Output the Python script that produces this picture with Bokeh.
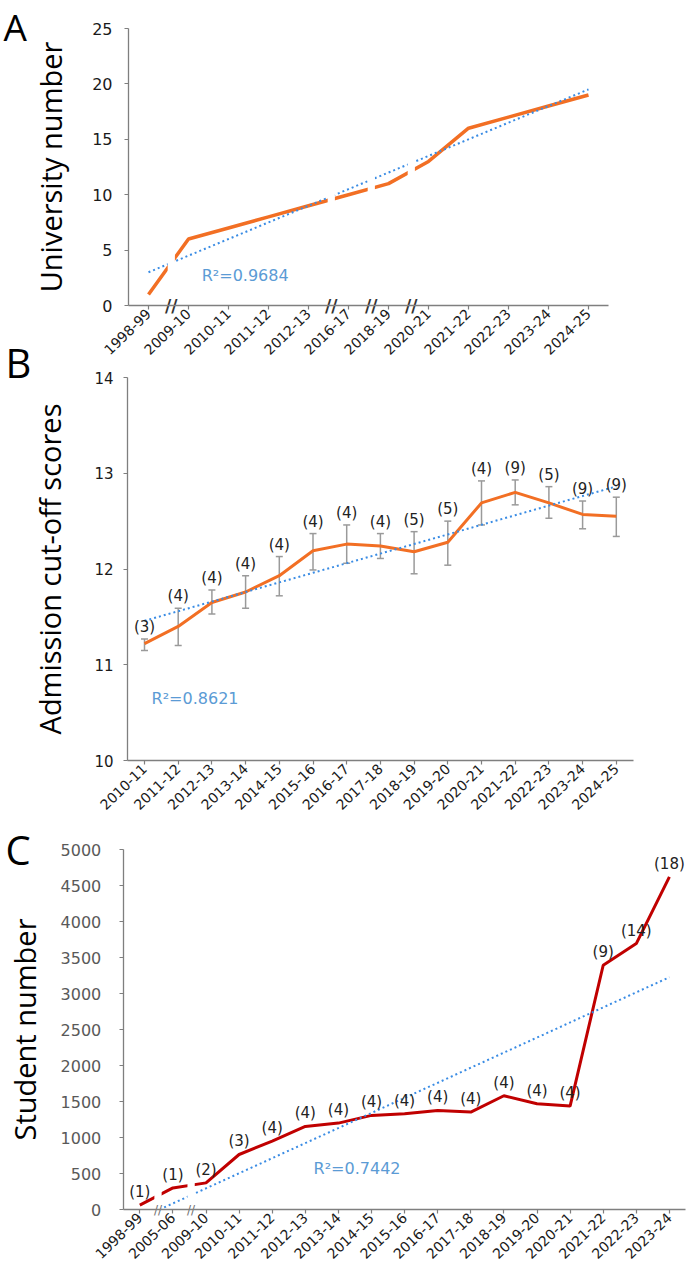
import numpy as np
from bokeh.plotting import figure
from bokeh.models import (Range1d, SingleIntervalTicker, FixedTicker, Label,
                          LinearAxis, CustomJSTickFormatter)
from bokeh.embed import file_html
from bokeh.resources import INLINE
from bokeh.core.properties import value

# ---------------- data ----------------
# Panel A
years_a = ["1998-99", "2009-10", "2010-11", "2011-12", "2012-13", "2016-17",
           "2018-19", "2020-21", "2021-22", "2022-23", "2023-24", "2024-25"]
univ_a = [1, 6, 7, 8, 9, 10, 11, 13, 16, 17, 18, 19]
breaks_a = ["1998-99", "2012-13", "2016-17", "2018-19"]
r2_a = "R\u00b2=0.9684"

# Panel B
years_b = ["2010-11", "2011-12", "2012-13", "2013-14", "2014-15", "2015-16",
           "2016-17", "2017-18", "2018-19", "2019-20", "2020-21", "2021-22",
           "2022-23", "2023-24", "2024-25"]
score_b = [11.22, 11.40, 11.65, 11.76, 11.93, 12.19, 12.26, 12.24, 12.18,
           12.28, 12.69, 12.80, 12.69, 12.57, 12.55]
upper_b = [11.27, 11.59, 11.78, 11.93, 12.13, 12.37, 12.46, 12.37, 12.39,
           12.50, 12.92, 12.93, 12.86, 12.71, 12.75]
lower_b = [11.15, 11.20, 11.53, 11.59, 11.72, 11.99, 12.06, 12.11, 11.95,
           12.04, 12.46, 12.67, 12.53, 12.42, 12.34]
n_b = [3, 4, 4, 4, 4, 4, 4, 4, 5, 5, 4, 9, 5, 9, 9]
r2_b = "R\u00b2=0.8621"

# Panel C
years_c = ["1998-99", "2005-06", "2009-10", "2010-11", "2011-12", "2012-13",
           "2013-14", "2014-15", "2015-16", "2016-17", "2017-18", "2018-19",
           "2019-20", "2020-21", "2021-22", "2022-23", "2023-24"]
students_c = [60, 300, 370, 764, 950, 1154, 1200, 1307, 1330, 1376, 1353,
              1580, 1469, 1437, 3392, 3693, 4620]
n_c = [1, 1, 2, 3, 4, 4, 4, 4, 4, 4, 4, 4, 4, 4, 9, 14, 18]
breaks_c = ["1998-99", "2005-06"]
r2_c = "R\u00b2=0.7442"

# ---------------- styles ----------------
W, H = 695, 1265
ORANGE = "#F26F24"
RED = "#C00000"
BLUE = "#3A8CE4"
R2_BLUE = "#5B9BD5"
ERR_GRAY = "#9A9A9A"
AXIS_GRAY = "#7F7F7F"

p = figure(width=W, height=H, x_range=Range1d(0, 1), y_range=Range1d(0, 1),
           x_axis_location=None, y_axis_location=None,
           output_backend="svg", toolbar_location=None, min_border=0)
p.grid.visible = False
p.outline_line_color = None


def panel_ranges(name, x_first_px, x_step_px, y_lo, y_lo_px, y_hi, y_hi_px):
    """Map category index i to x pixel x_first_px + i*x_step_px and values to canvas rows."""
    xs = (0 - x_first_px) / x_step_px
    xe = (W - x_first_px) / x_step_px
    k = (y_hi - y_lo) / (y_lo_px - y_hi_px)          # value per pixel (upwards)
    ys = y_lo - (H - y_lo_px) * k
    ye = y_lo + y_lo_px * k
    p.extra_x_ranges["x" + name] = Range1d(xs, xe)
    p.extra_y_ranges["y" + name] = Range1d(ys, ye)
    return "x" + name, "y" + name


def add_axes(xr, yr, cats, y0, y1, interval, ylabel, ytick_color, ytick_size,
             ystand, ylab_stand):
    n = len(cats)
    yax = LinearAxis(x_range_name=xr, y_range_name=yr, fixed_location=-0.5,
                     bounds=(y0, y1), ticker=SingleIntervalTicker(interval=interval))
    xax = LinearAxis(x_range_name=xr, y_range_name=yr, fixed_location=y0,
                     bounds=(-0.5, n - 0.5),
                     ticker=FixedTicker(ticks=list(range(n))),
                     formatter=CustomJSTickFormatter(
                         args=dict(labels=cats),
                         code="const i = Math.round(tick); return (i >= 0 && i < labels.length) ? labels[i] : '';"))
    for ax in (xax, yax):
        ax.major_tick_in = 0
        ax.major_tick_out = 4
        ax.minor_tick_line_color = None
        ax.axis_line_color = AXIS_GRAY
        ax.major_tick_line_color = AXIS_GRAY
        ax.axis_line_width = 1.3
        ax.major_tick_line_width = 1.2
    xax.major_label_orientation = 0.77
    xax.major_label_text_font = "DejaVu Sans"
    xax.major_label_text_font_size = "14px"
    xax.major_label_text_color = "#1a1a1a"
    xax.major_label_standoff = 2
    yax.major_label_text_font = "DejaVu Sans"
    yax.major_label_text_font_size = ytick_size
    yax.major_label_text_color = ytick_color
    yax.major_label_standoff = ystand
    yax.axis_label = ylabel
    yax.axis_label_text_font = "Open Sans"
    yax.axis_label_text_font_size = "29px"
    yax.axis_label_text_font_style = "normal"
    yax.axis_label_text_color = "black"
    yax.axis_label_standoff = ylab_stand
    p.add_layout(yax, "left")
    p.add_layout(xax, "below")


def add_breaks(xr, yr, cats, brk_after, offset, half_w, y0, y1, size, color, style):
    xs = [cats.index(c) + offset for c in brk_after]
    p.quad(left=[x - half_w for x in xs], right=[x + half_w for x in xs],
           bottom=y0, top=y1, fill_color="white", line_color=None,
           x_range_name=xr, y_range_name=yr)
    p.text(x=xs, y=[y0] * len(xs), text=["//"] * len(xs), text_align="center",
           text_baseline="middle", text_font=value("DejaVu Sans"),
           text_font_size=size, text_color=color, text_font_style=style,
           x_range_name=xr, y_range_name=yr)


def letter(txt, x_px, mid_px, size):
    p.add_layout(Label(x=x_px, y=H - mid_px, x_units="screen", y_units="screen",
                       text=txt, text_font="Open Sans", text_font_size=size,
                       text_baseline="middle", text_align="left",
                       text_color="black"))


# ---------------- Panel A ----------------
xa_r, ya_r = panel_ranges("a", 148, 40, 0, 305, 25, 28)
ia = list(range(len(years_a)))
p.line(ia, univ_a, line_color=ORANGE, line_width=3.5, x_range_name=xa_r, y_range_name=ya_r)
ka, ca = np.polyfit(ia, univ_a, 1)
p.line(ia, ka * np.array(ia) + ca, line_color=BLUE, line_width=2, line_dash="2 3",
       x_range_name=xa_r, y_range_name=ya_r)
add_breaks(xa_r, ya_r, years_a, breaks_a, 0.57, 0.09, 0, 25, "17px", "#333333", "bold")
p.add_layout(Label(x=1.33, y=2.7, text=r2_a, text_baseline="middle",
                   text_font="DejaVu Sans", text_font_size="16px",
                   text_color=R2_BLUE, x_range_name=xa_r, y_range_name=ya_r))
add_axes(xa_r, ya_r, years_a, 0, 25, 5, "University number", "#1a1a1a", "16px", 12, 19)
letter("A", 3, 26, "37px")

# ---------------- Panel B ----------------
xb_r, yb_r = panel_ranges("b", 144, 33.7, 10, 760, 14, 377)
ib = list(range(len(years_b)))
p.segment(x0=ib, y0=lower_b, x1=ib, y1=upper_b, line_color=ERR_GRAY, line_width=1.5,
          x_range_name=xb_r, y_range_name=yb_r)
p.scatter(ib, upper_b, marker="dash", size=7, line_color=ERR_GRAY, line_width=1.5,
          x_range_name=xb_r, y_range_name=yb_r)
p.scatter(ib, lower_b, marker="dash", size=7, line_color=ERR_GRAY, line_width=1.5,
          x_range_name=xb_r, y_range_name=yb_r)
p.line(ib, score_b, line_color=ORANGE, line_width=3, x_range_name=xb_r, y_range_name=yb_r)
kb, cb = np.polyfit(ib, score_b, 1)
p.line(ib, kb * np.array(ib) + cb, line_color=BLUE, line_width=2, line_dash="2 3",
       x_range_name=xb_r, y_range_name=yb_r)
p.text(x=ib, y=upper_b, text=["(%d)" % n for n in n_b], text_align="center",
       text_baseline="bottom", y_offset=-3, text_font=value("DejaVu Sans"),
       text_font_size="15px", text_color="#222222",
       x_range_name=xb_r, y_range_name=yb_r)
p.add_layout(Label(x=0.21, y=10.65, text=r2_b, text_baseline="middle",
                   text_font="DejaVu Sans", text_font_size="16px",
                   text_color=R2_BLUE, x_range_name=xb_r, y_range_name=yb_r))
add_axes(xb_r, yb_r, years_b, 10, 14, 1, "Admission cut-off scores", "#1a1a1a", "15px", 10, 22)
letter("B", 5, 362, "40px")

# ---------------- Panel C ----------------
xc_r, yc_r = panel_ranges("c", 139.3, 33.1, 0, 1209, 5000, 849)
ic = list(range(len(years_c)))
p.line(ic, students_c, line_color=RED, line_width=3, x_range_name=xc_r, y_range_name=yc_r)
kc, cc = np.polyfit(ic, students_c, 1)
x_zero = -cc / kc
p.line([x_zero, ic[-1]], [0, kc * ic[-1] + cc], line_color=BLUE, line_width=2,
       line_dash="2 3", x_range_name=xc_r, y_range_name=yc_r)
add_breaks(xc_r, yc_r, years_c, breaks_c, 0.55, 0.11, 0, 5000, "12px", "#707070", "normal")
p.text(x=ic, y=students_c, text=["(%d)" % n for n in n_c], text_align="center",
       text_baseline="bottom", y_offset=-4, text_font=value("DejaVu Sans"),
       text_font_size="15px", text_color="#222222",
       x_range_name=xc_r, y_range_name=yc_r)
p.add_layout(Label(x=5.25, y=570, text=r2_c, text_baseline="middle",
                   text_font="DejaVu Sans", text_font_size="16px",
                   text_color=R2_BLUE, x_range_name=xc_r, y_range_name=yc_r))
add_axes(xc_r, yc_r, years_c, 0, 5000, 500, "Student number", "#595959", "16px", 18, 14)
letter("C", 5, 849, "40px")

open("out.html", "w").write(file_html(p, INLINE))
